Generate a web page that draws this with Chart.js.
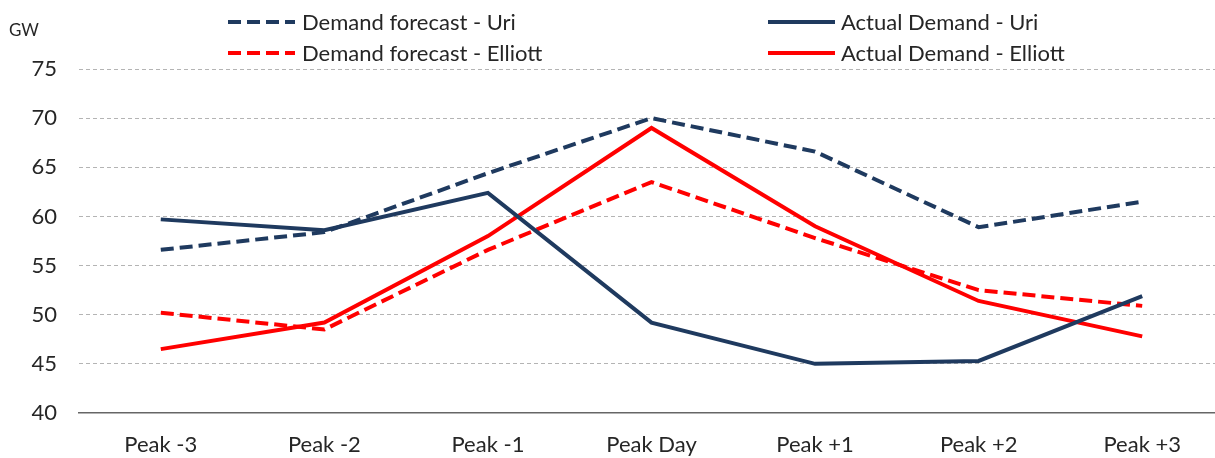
<!DOCTYPE html>
<html><head><meta charset="utf-8">
<script src="https://cdn.jsdelivr.net/npm/chart.js@4/dist/chart.umd.min.js"></script>
<style>html,body{margin:0;padding:0;background:#fff;overflow:hidden;} #wrap{width:1224px;height:458px;} canvas{display:block;}</style>
</head><body><div id="wrap"><canvas id="c" width="1224" height="458"></canvas></div>
<script>
const categories = ['Peak -3', 'Peak -2', 'Peak -1', 'Peak Day', 'Peak +1', 'Peak +2', 'Peak +3'];
const forecastUri = [56.6, 58.4, 64.4, 70.0, 66.6, 58.9, 61.5];
const actualUri = [59.7, 58.6, 62.4, 49.2, 45.0, 45.3, 51.9];
const forecastElliott = [50.2, 48.5, 56.6, 63.5, 57.8, 52.5, 50.9];
const actualElliott = [46.5, 49.2, 58.0, 69.0, 59.0, 51.4, 47.8];
const yTicks = [40, 45, 50, 55, 60, 65, 70, 75];
const unitLabel = 'GW';
const seriesLabels = ['Demand forecast - Uri', 'Actual Demand - Uri', 'Demand forecast - Elliott', 'Actual Demand - Elliott'];

const NAVY = '#1f3a5f';
const RED = '#ff0000';
const FONT = 'Lato, "Liberation Sans", sans-serif';
const TEXT = '#262626';
const DASH = [13, 6];

const legendPlugin = {
  id: 'gridLegend',
  afterDraw(chart) {
    const ctx = chart.ctx;
    const cols = [{x0: 228, x1: 295, tx: 302}, {x0: 768, x1: 835, tx: 841}];
    const rows = [{ly: 22, ty: 30}, {ly: 53, ty: 61}];
    chart.data.datasets.forEach((ds, i) => {
      const c = cols[i % 2], r = rows[Math.floor(i / 2)];
      ctx.save();
      ctx.strokeStyle = ds.borderColor;
      ctx.lineWidth = ds.borderWidth;
      ctx.setLineDash(ds.borderDash || []);
      ctx.lineCap = 'butt';
      ctx.beginPath(); ctx.moveTo(c.x0, r.ly); ctx.lineTo(c.x1, r.ly); ctx.stroke();
      ctx.setLineDash([]);
      ctx.fillStyle = TEXT;
      ctx.font = '22px ' + FONT;
      ctx.textBaseline = 'alphabetic';
      ctx.textAlign = 'left';
      ctx.fillText(ds.label, c.tx, r.ty);
      ctx.restore();
    });
    ctx.save();
    ctx.fillStyle = TEXT;
    ctx.font = '17px ' + FONT;
    ctx.textBaseline = 'alphabetic';
    ctx.textAlign = 'left';
    ctx.fillText(unitLabel, 9, 36);
    ctx.restore();
  }
};

const mk = (label, data, color, dashed) => ({
  label, data, borderColor: color, backgroundColor: color, borderWidth: 4,
  borderDash: dashed ? DASH : [], pointRadius: 0, pointHoverRadius: 0, tension: 0,
  fill: false, borderCapStyle: 'butt', borderJoinStyle: 'miter'
});

new Chart(document.getElementById('c'), {
  type: 'line',
  data: {
    labels: categories,
    datasets: [
      mk(seriesLabels[0], forecastUri, NAVY, true),
      mk(seriesLabels[1], actualUri, NAVY, false),
      mk(seriesLabels[2], forecastElliott, RED, true),
      mk(seriesLabels[3], actualElliott, RED, false)
    ]
  },
  options: {
    responsive: false,
    animation: false,
    devicePixelRatio: 1,
    layout: {padding: {top: 69, left: 0, right: 0, bottom: 0}},
    plugins: {legend: {display: false}, tooltip: {enabled: false}, title: {display: false}},
    scales: {
      x: {
        offset: true,
        grid: {display: false, drawTicks: false},
        border: {display: true, color: '#666666', width: 1.5},
        ticks: {color: TEXT, font: {family: FONT, size: 22}, padding: 19, maxRotation: 0, autoSkip: false},
        afterFit: s => { s.height = 45; }
      },
      y: {
        min: 40, max: 75,
        afterBuildTicks: s => { s.ticks = yTicks.map(v => ({value: v})); },
        grid: {color: c => (c.tick && c.tick.value === 40) ? 'rgba(0,0,0,0)' : '#b4b4b4', lineWidth: 1, drawTicks: false, tickLength: 0},
        border: {display: false, dash: [4, 3]},
        ticks: {color: TEXT, font: {family: FONT, size: 22}, padding: 22},
        afterFit: s => { s.width = 79; }
      }
    }
  },
  plugins: [legendPlugin]
});
</script>
</body></html>
